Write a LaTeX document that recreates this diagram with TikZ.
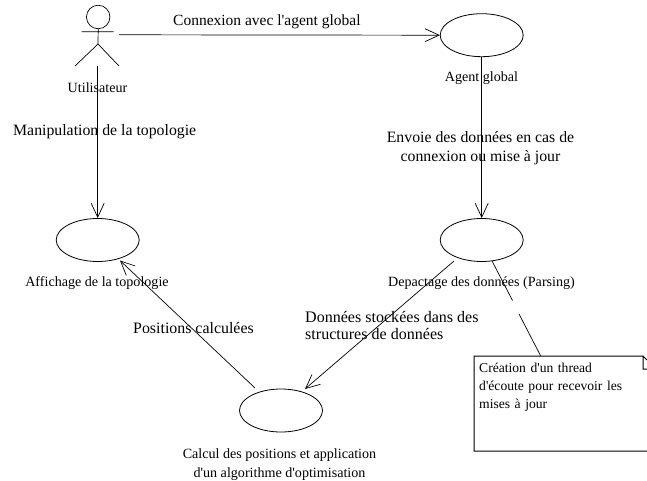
\documentclass[tikz,border=0pt]{standalone}
\usepackage{fontspec}
\setmainfont{Liberation Serif}[Ligatures=TeXOff]
\usetikzlibrary{arrows.meta,shapes.geometric}
\tikzset{
  usecase/.style={draw,ellipse,minimum width=83pt,minimum height=43pt,inner sep=0pt,line width=0.8pt},
  lab/.style={inner sep=0pt,font=\fontsize{15.5}{17.5}\selectfont,align=left,anchor=west},
  small/.style={inner sep=0pt,font=\fontsize{14.1}{19}\selectfont,align=center},
  link/.style={line width=0.7pt,-{Straight Barb[length=14pt,width=13pt,line width=0.7pt]}},
  plain/.style={line width=0.7pt}
}
\begin{document}
\begin{tikzpicture}[x=1pt,y=-1pt]
\useasboundingbox (0,0) rectangle (647,481);
% actor
\node[draw,circle,minimum size=23.5pt,inner sep=0pt,line width=0.7pt] (head) at (98.2,17) {};
\coordinate (neck) at (98,44);
\coordinate (armL) at (81.5,31.7);
\coordinate (armR) at (113.5,31.7);
\coordinate (legL) at (75,66);
\coordinate (legR) at (119,66);
\coordinate (actorfoot) at (97.7,66);
\coordinate (actorside) at (119,34.8);
\draw[plain] (head.south) -- (neck) (armL) -- (armR) (legL) -- (neck) -- (legR);
% use cases
\node[usecase] (agent) at (481.7,35.2) {};
\node[usecase] (depact) at (481.7,240) {};
\node[usecase] (affich) at (97.7,240) {};
\node[usecase] (calcul) at (281,410.5) {};
% labels
\node[small] (lutil) at (97.5,88) {Utilisateur};
\node[small] (lagent) at (481.5,78.5) {Agent global};
\node[small] (laff) at (97,283.5) {Affichage de la topologie};
\node[small] (ldep) at (481.5,283.5) {Depactage des données (Parsing)};
\node[small] (lcal) at (279.5,465) {Calcul des positions et application\\ d'un algorithme d'optimisation};
\node[lab] (c1) at (173,22) {Connexion avec l'agent global};
\node[lab,font=\fontsize{15.8}{17.5}\selectfont] (c2) at (13,132) {Manipulation de la topologie};
\node[lab,anchor=center,align=center,font=\fontsize{15.8}{19}\selectfont] (c3) at (480.5,148) {Envoie des données en cas de\\connexion ou mise à jour};
\node[lab,font=\fontsize{15.9}{17.5}\selectfont] (c4) at (133,328) {Positions calculées};
\node[lab,font=\fontsize{16.05}{17.5}\selectfont] (c5) at (305,325.5) {Données stockées dans des\\structures de données};
% connectors
\draw[link] (actorside) -- (agent.west);
\draw[link] (actorfoot) -- (affich.north);
\draw[link] (agent.south) -- (depact.north);
\coordinate (d1) at (454,261);
\coordinate (d2) at (305,389);
\draw[link] (d1) -- (d2);
\coordinate (p1) at (255,388);
\coordinate (p2) at (120,260.5);
\draw[link] (p1) -- (p2);
% note
\coordinate (nBL) at (474,451);
\coordinate (nTL) at (474,356);
\coordinate (nTR) at (643,356);
\coordinate (nF) at (643,369);
\coordinate (nR) at (647,369);
\coordinate (nBR) at (647,451);
\coordinate (nD) at (647,360);
\draw[line width=1pt] (nBR) -- (nBL) -- (nTL) -- (nTR) -- (nF) -- (nR) (nTR) -- (nD);
\node[lab,font=\fontsize{13.6}{18}\selectfont,text width=165pt,anchor=west] (note) at (479,387.5) {Création d'un thread\\d'écoute pour recevoir les\\mises à jour};
\coordinate (a1) at (492,261);
\coordinate (a2) at (512.5,300.5);
\coordinate (a3) at (519,314);
\coordinate (a4) at (540.7,356);
\draw[plain] (a1) -- (a2) (a3) -- (a4);
\end{tikzpicture}
\end{document}
